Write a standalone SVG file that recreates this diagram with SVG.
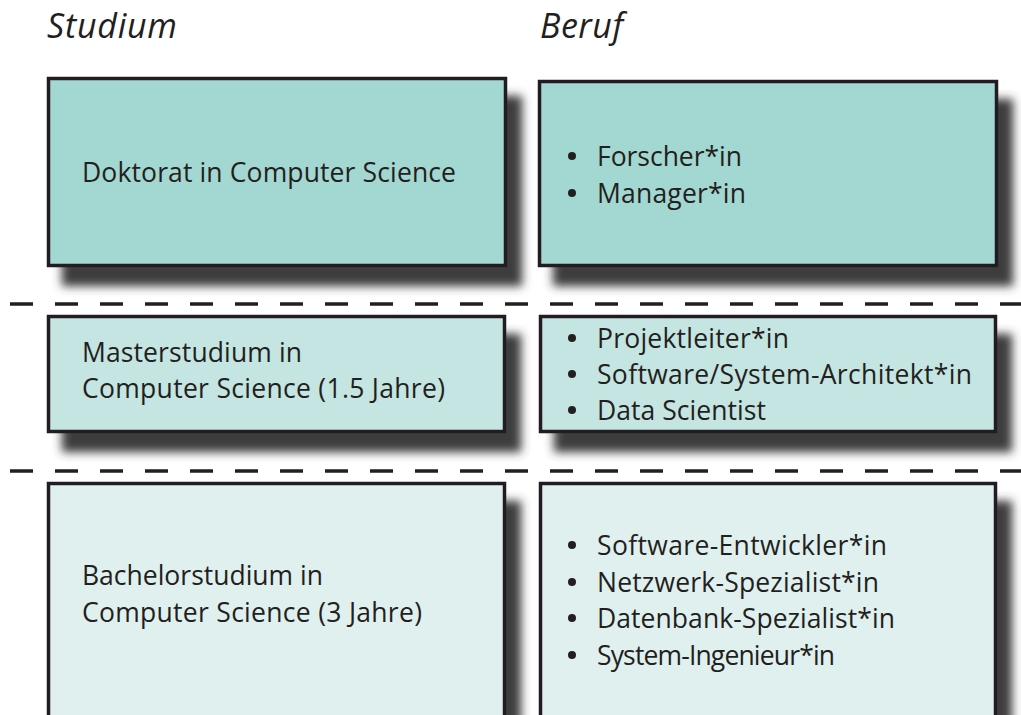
<svg xmlns="http://www.w3.org/2000/svg" width="1021" height="715" viewBox="0 0 1021 715">
<style>
.box{stroke:#231f20;stroke-width:3.5}
.r1{fill:#a3d7d2}
.r2{fill:#c4e5e1}
.r3{fill:#e0f0ef}
.t{font-family:"Open Sans","Noto Sans","Liberation Sans",sans-serif;font-size:26.5px;fill:#231f20}
.h{font-family:"Open Sans","Noto Sans","Liberation Sans",sans-serif;font-size:34px;font-style:italic;fill:#231f20}
.b{fill:#231f20}
.sep{stroke:#231f20;stroke-width:3.5;stroke-dasharray:23 22;fill:none}
</style>
<defs>
<filter id="sh" x="-10%" y="-10%" width="130%" height="150%">
<feGaussianBlur in="SourceAlpha" stdDeviation="5"/>
<feOffset dx="15" dy="19" result="o"/>
<feFlood flood-color="#333333" flood-opacity="0.95"/>
<feComposite in2="o" operator="in"/>
<feMerge><feMergeNode/><feMergeNode in="SourceGraphic"/></feMerge>
</filter>
</defs>
<rect width="1021" height="715" fill="#ffffff"/>
<g id="headings">
<text class="h" x="47" y="38" textLength="130">Studium</text>
<text class="h" x="540" y="38" textLength="83">Beruf</text>
</g>
<g id="node-doktorat">
<rect class="box r1" x="48.5" y="78.5" width="457" height="187" filter="url(#sh)"/>
<text class="t" x="82" y="182" textLength="374">Doktorat in Computer Science</text>
</g>
<g id="node-beruf-doktorat">
<rect class="box r1" x="539.5" y="81.5" width="457" height="184" filter="url(#sh)"/>
<circle class="b" cx="572" cy="156" r="4"/>
<text class="t" x="597" y="166" textLength="145">Forscher*in</text>
<circle class="b" cx="572" cy="193" r="4"/>
<text class="t" x="597" y="203" textLength="149">Manager*in</text>
</g>
<g id="node-master">
<rect class="box r2" x="48.5" y="316.5" width="456" height="115" filter="url(#sh)"/>
<text class="t" x="82" y="362" textLength="220">Masterstudium in</text>
<text class="t" x="82" y="398" textLength="363">Computer Science (1.5 Jahre)</text>
</g>
<g id="node-beruf-master">
<rect class="box r2" x="540.5" y="316.5" width="455" height="115" filter="url(#sh)"/>
<circle class="b" cx="572" cy="338" r="4"/>
<text class="t" x="597" y="348" textLength="192">Projektleiter*in</text>
<circle class="b" cx="572" cy="374" r="4"/>
<text class="t" x="597" y="384" textLength="375">Software/System-Architekt*in</text>
<circle class="b" cx="572" cy="410" r="4"/>
<text class="t" x="597" y="420" textLength="169">Data Scientist</text>
</g>
<g id="node-bachelor">
<rect class="box r3" x="48.5" y="483.5" width="456" height="260" filter="url(#sh)"/>
<text class="t" x="82" y="585" textLength="241">Bachelorstudium in</text>
<text class="t" x="82" y="622" textLength="340">Computer Science (3 Jahre)</text>
</g>
<g id="node-beruf-bachelor">
<rect class="box r3" x="540.5" y="483.5" width="455" height="260" filter="url(#sh)"/>
<circle class="b" cx="572" cy="545" r="4"/>
<text class="t" x="597" y="555" textLength="290">Software-Entwickler*in</text>
<circle class="b" cx="572" cy="582" r="4"/>
<text class="t" x="597" y="592" textLength="282">Netzwerk-Spezialist*in</text>
<circle class="b" cx="572" cy="618" r="4"/>
<text class="t" x="597" y="628" textLength="298">Datenbank-Spezialist*in</text>
<circle class="b" cx="572" cy="655" r="4"/>
<text class="t" x="597" y="665" textLength="238">System-Ingenieur*in</text>
</g>
<g id="separators">
<line class="sep" x1="10" y1="304" x2="1021" y2="304"/>
<line class="sep" x1="10" y1="471" x2="1021" y2="471"/>
</g>
</svg>
